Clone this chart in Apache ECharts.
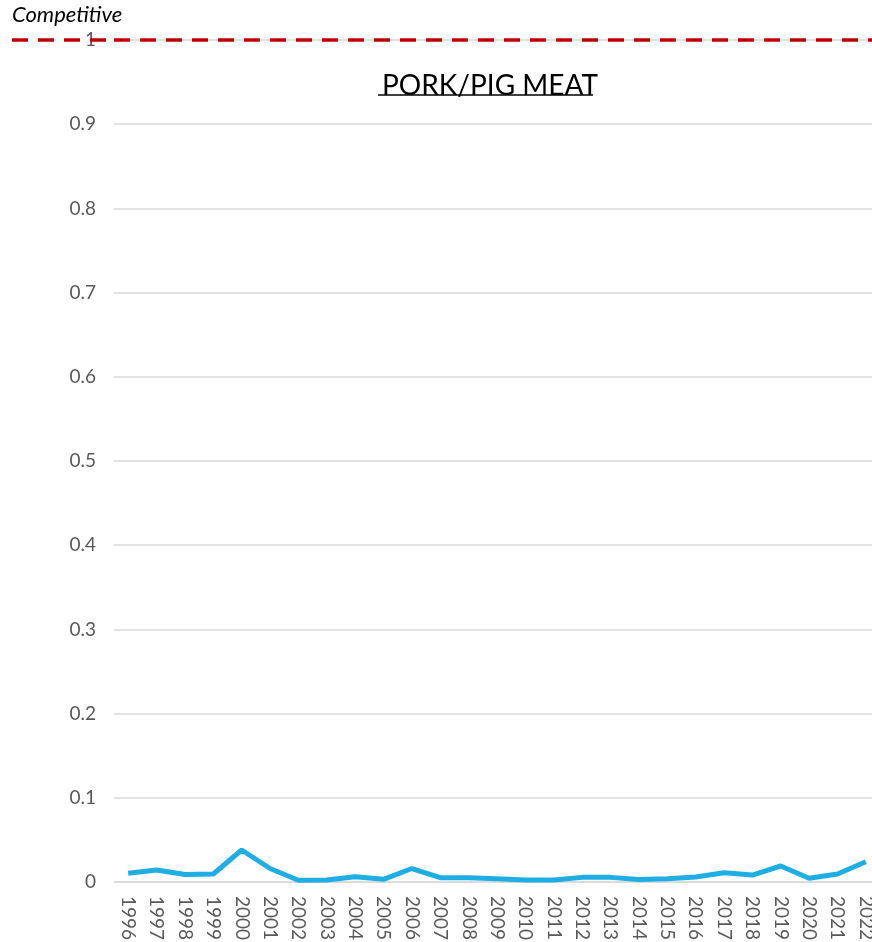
<!DOCTYPE html>
<html><head><meta charset="utf-8">
<script src="https://cdn.jsdelivr.net/npm/echarts@6/dist/echarts.min.js"></script>
<style>html,body{margin:0;padding:0;background:#fff}#c{width:872px;height:942px}</style>
</head><body><div id="c"></div>
<script>
const years = ['1996','1997','1998','1999','2000','2001','2002','2003','2004','2005','2006','2007','2008','2009','2010','2011','2012','2013','2014','2015','2016','2017','2018','2019','2020','2021','2022'];
const values = [0.0103,0.0143,0.009,0.0095,0.038,0.016,0.002,0.0024,0.0063,0.0032,0.016,0.0051,0.0051,0.004,0.0024,0.0025,0.0055,0.0055,0.003,0.004,0.006,0.011,0.0083,0.019,0.0044,0.0095,0.024];
const yTicks = [0,0.1,0.2,0.3,0.4,0.5,0.6,0.7,0.8,0.9,1];
const threshold = 1;
const titleText = 'PORK/PIG MEAT';
const thresholdLabel = 'Competitive';

const font = 'Lato, "Noto Sans", sans-serif';
const chart = echarts.init(document.getElementById('c'));
chart.setOption({
  animation: false,
  grid: {left: 114, width: 766, top: 40, height: 842, containLabel: false, outerBoundsMode: 'none'},
  title: {text: titleText, left: 485, textAlign: 'center', top: 67,
    textStyle: {fontFamily: font, fontSize: 28, fontWeight: 'normal', color: '#000'}},
  xAxis: {type: 'category', data: years, boundaryGap: true,
    axisLine: {show: true, lineStyle: {color: '#d9d9d9', width: 1.5}},
    axisTick: {show: false},
    axisLabel: {rotate: -90, interval: 0, color: '#595959', fontSize: 19, fontFamily: font, margin: 14}},
  yAxis: {type: 'value', min: 0, max: 1, interval: 0.1,
    axisLine: {show: false}, axisTick: {show: false},
    splitLine: {lineStyle: {color: '#d9d9d9', width: 1.5}},
    axisLabel: {color: '#595959', fontSize: 19, fontFamily: font, margin: 18,
      formatter: v => { const t = yTicks.find(x => Math.abs(x - v) < 1e-9); return t === undefined ? '' : String(t); }}},
  series: [{type: 'line', data: values, symbol: 'none',
    lineStyle: {color: '#1FAEE4', width: 5}, z: 3,
    markLine: {silent: true, symbol: 'none', label: {show: false},
      lineStyle: {color: '#C00000', type: [16, 10], width: 3.5},
      data: [{yAxis: threshold}]}}]
});
const yPix = chart.convertToPixel({gridIndex: 0}, [0, threshold])[1];
chart.setOption({graphic: [
  {type: 'line', shape: {x1: 12, y1: yPix, x2: 114, y2: yPix}, style: {stroke: '#C00000', lineWidth: 3.5, lineDash: [16, 10]}, z: 1},
  {type: 'text', left: 12, top: yPix - 36, style: {text: thresholdLabel, fontFamily: font, fontStyle: 'italic', fontSize: 22, fill: '#000'}},
  {type: 'line', shape: {x1: 378, y1: 95, x2: 593, y2: 95}, style: {stroke: '#000', lineWidth: 1.5}}
]});
</script></body></html>
